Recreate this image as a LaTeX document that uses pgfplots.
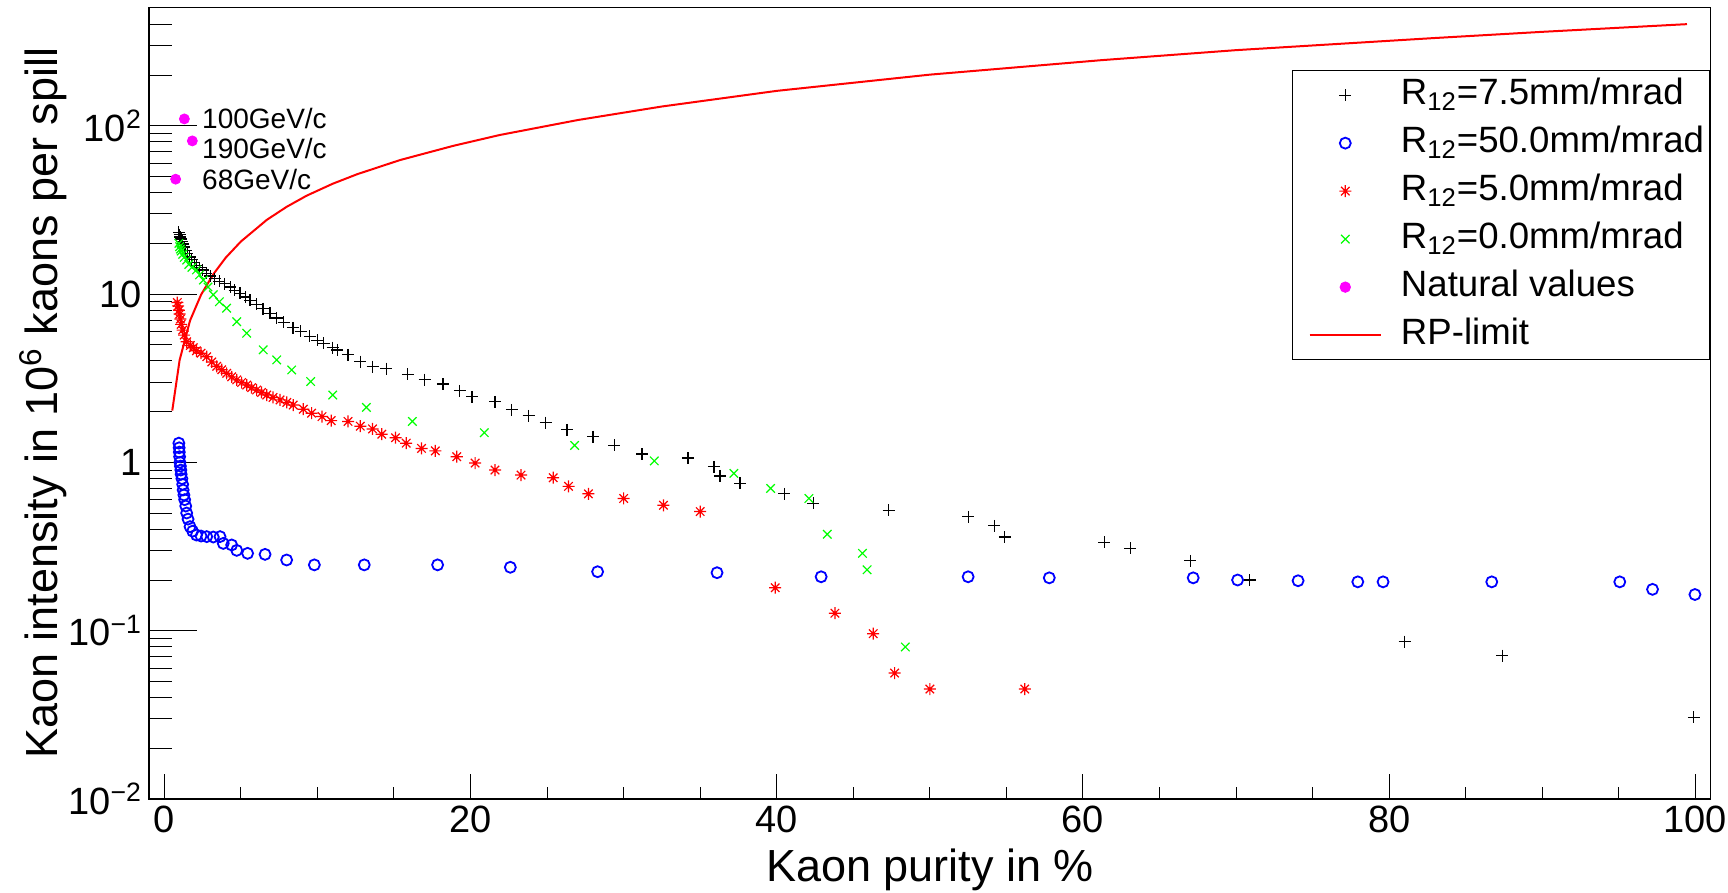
\documentclass[border=0pt]{standalone}
\usepackage{fontspec}
\setmainfont{Liberation Sans}
\usepackage{pgfplots}
\pgfplotsset{compat=1.18}

\definecolor{rblue}{RGB}{0,0,255}
\definecolor{rred}{RGB}{255,0,0}
\definecolor{rgreen}{RGB}{0,255,0}
\definecolor{rmagenta}{RGB}{255,0,255}

% ROOT-like star marker: + and x with a dot in the middle
\pgfdeclareplotmark{rootstar}{%
  \pgfpathmoveto{\pgfqpoint{-\pgfplotmarksize}{0pt}}\pgfpathlineto{\pgfqpoint{\pgfplotmarksize}{0pt}}%
  \pgfpathmoveto{\pgfqpoint{0pt}{-\pgfplotmarksize}}\pgfpathlineto{\pgfqpoint{0pt}{\pgfplotmarksize}}%
  \pgfpathmoveto{\pgfqpoint{-0.707\pgfplotmarksize}{-0.707\pgfplotmarksize}}\pgfpathlineto{\pgfqpoint{0.707\pgfplotmarksize}{0.707\pgfplotmarksize}}%
  \pgfpathmoveto{\pgfqpoint{-0.707\pgfplotmarksize}{0.707\pgfplotmarksize}}\pgfpathlineto{\pgfqpoint{0.707\pgfplotmarksize}{-0.707\pgfplotmarksize}}%
  \pgfusepathqstroke
  \pgfpathcircle{\pgfpointorigin}{0.3\pgfplotmarksize}\pgfusepathqfill
}

\begin{document}
\begin{tikzpicture}
\begin{axis}[
  name=ax, at={(0,0)}, anchor=south west,
  scale only axis, width=780.85pt, height=395.85pt,
  xmin=-1, xmax=101, ymode=log, ymin=0.01, ymax=505,
  axis line style={line width=0.65pt},
  tick pos=left, tick align=inside,
  xtick={0,20,40,60,80,100},
  minor xtick={5,10,15,25,30,35,45,50,55,65,70,75,85,90,95},
  ytick={0.01,0.1,1,10,100},
  yticklabels={10\textsuperscript{−2},10\textsuperscript{−1},1,10,10\textsuperscript{2}},
  minor ytick={0.02,0.03,0.04,0.05,0.06,0.07,0.08,0.09,
               0.2,0.3,0.4,0.5,0.6,0.7,0.8,0.9,
               2,3,4,5,6,7,8,9,20,30,40,50,60,70,80,90,200,300,400},
  tick style={line width=0.5pt, black},
  xtick style={/pgfplots/major tick length=12.5pt, /pgfplots/minor tick length=6pt},
  ytick style={/pgfplots/major tick length=24pt, /pgfplots/minor tick length=11.5pt},
  ticklabel style={font=\fontsize{19}{22}\selectfont},
  /pgf/number format/assume math mode=true,
  xlabel={Kaon purity in \%},
  ylabel={Kaon intensity in 10\textsuperscript{6} kaons per spill},
  every axis x label/.style={at={(axis description cs:0.5,-0.1048)}, anchor=base,
    font=\fontsize{22.5}{26}\selectfont},
  every axis y label/.style={at={(axis description cs:-0.0589,0.5)}, rotate=90, anchor=base,
    font=\fontsize{22.5}{26}\selectfont},
  legend image code/.code={\path (-4.9pt,0pt);\draw[mark repeat=2,mark phase=2,#1]
    plot coordinates {(0pt,0pt) (17.85pt,0pt) (35.7pt,0pt)};},
  legend cell align=left,
  legend style={at={(1,0.9208)}, anchor=north east, draw=black, line width=0.65pt,
    fill=white, font=\fontsize{18.3}{21}\selectfont,
    inner xsep=3pt, inner ysep=3pt, row sep=5.5pt, column sep=9.5pt,
    nodes={inner sep=0pt, text height=14pt, text depth=4.5pt}},
]
% R12 = 7.5 mm/mrad
\addplot[only marks, mark=+, mark size=3pt, black, mark options={line width=0.6pt}] coordinates {
(0.95,23.2) (1.0,22.5) (1.05,21.8) (1.1,21.2) (1.15,20.6) (1.2,19.8) (1.3,19.0) (1.4,18.2)
(1.5,17.5) (1.65,16.6) (1.8,16.0) (1.95,15.4) (2.1,14.8) (2.3,14.3) (2.5,13.9) (2.75,13.3)
(3.0,12.8) (3.3,12.3) (3.6,11.9) (3.95,11.5) (4.3,11.0) (4.6,10.5) (4.95,10.1) (5.3,9.6)
(5.6,9.2) (6.0,8.7) (6.45,8.2) (6.9,7.7) (7.35,7.2) (7.8,6.8) (8.4,6.3) (8.9,6.0) (9.5,5.6)
(10.0,5.3) (10.4,5.1) (11.0,4.8) (11.3,4.65) (12.0,4.35) (12.8,3.97) (13.6,3.70) (14.5,3.60)
(15.9,3.33) (17.0,3.10) (18.2,2.92) (19.3,2.66) (20.1,2.45) (21.6,2.29) (22.7,2.05) (23.8,1.89)
(24.9,1.72) (26.3,1.56) (28.0,1.42) (29.4,1.26) (31.2,1.12) (34.2,1.06) (35.9,0.94) (36.3,0.83)
(37.6,0.75) (40.5,0.65) (42.4,0.57) (47.3,0.52) (52.5,0.475) (54.2,0.42) (54.9,0.36)
(61.4,0.335) (63.1,0.309) (67.0,0.26) (70.9,0.20) (81.0,0.086) (87.4,0.071) (99.9,0.0306)
};
\addlegendentry{R\textsubscript{12}=7.5mm/mrad}
% R12 = 50.0 mm/mrad
\addplot[only marks, mark=o, mark size=2.75pt, rblue, mark options={line width=0.9pt}] coordinates {
(0.95,1.30) (0.97,1.22) (0.98,1.15) (1.0,1.08) (1.02,1.0) (1.05,0.95) (1.08,0.90) (1.1,0.85)
(1.15,0.80) (1.2,0.74) (1.23,0.685) (1.28,0.64) (1.33,0.60) (1.4,0.55) (1.46,0.50) (1.55,0.46)
(1.68,0.415) (1.85,0.39) (2.1,0.37) (2.4,0.365) (2.77,0.362) (3.2,0.36) (3.64,0.362) (3.85,0.33)
(4.4,0.323) (4.73,0.30) (5.44,0.288) (6.58,0.284) (7.99,0.263) (9.8,0.246) (13.06,0.246)
(17.85,0.246) (22.6,0.238) (28.3,0.224) (36.1,0.221) (42.9,0.209) (52.5,0.209) (57.8,0.206)
(67.2,0.206) (70.1,0.200) (74.05,0.198) (77.95,0.195) (79.6,0.195) (86.7,0.195) (95.06,0.195)
(97.2,0.176) (99.97,0.164)
};
\addlegendentry{R\textsubscript{12}=50.0mm/mrad}
% R12 = 5.0 mm/mrad
\addplot[only marks, mark=rootstar, mark size=3pt, rred, mark options={line width=0.6pt}] coordinates {
(0.85,8.9) (0.9,8.5) (0.95,8.0) (1.0,7.6) (1.05,7.1) (1.1,6.6) (1.2,6.1) (1.3,5.7) (1.46,5.2)
(1.7,4.95) (1.9,4.8) (2.1,4.6) (2.4,4.45) (2.77,4.24) (3.1,3.95) (3.42,3.72) (3.75,3.55)
(4.07,3.38) (4.4,3.22) (4.73,3.09) (5.05,2.98) (5.38,2.88) (5.7,2.78) (6.03,2.69) (6.35,2.60)
(6.69,2.51) (7.1,2.43) (7.56,2.35) (8.0,2.27) (8.42,2.19) (9.08,2.07) (9.62,1.96) (10.3,1.87)
(10.9,1.77) (12.0,1.75) (12.8,1.64) (13.6,1.58) (14.2,1.47) (15.1,1.40) (15.8,1.30) (16.8,1.21)
(17.7,1.17) (19.1,1.08) (20.3,0.99) (21.6,0.90) (23.3,0.84) (25.4,0.81) (26.4,0.72) (27.7,0.65)
(30.0,0.61) (32.6,0.556) (35.0,0.51) (39.9,0.18) (43.8,0.127) (46.3,0.096) (47.7,0.056)
(50.0,0.045) (56.2,0.045)
};
\addlegendentry{R\textsubscript{12}=5.0mm/mrad}
% R12 = 0.0 mm/mrad
\addplot[only marks, mark=x, mark size=3pt, rgreen, mark options={line width=0.6pt}] coordinates {
(0.95,20.0) (1.0,19.1) (1.05,18.5) (1.1,18.0) (1.2,17.2) (1.3,16.5) (1.46,15.9) (1.6,15.0)
(1.8,14.4) (2.1,13.9) (2.3,13.0) (2.55,12.1) (2.85,11.0) (3.2,9.9) (3.6,9.0) (4.07,8.24)
(4.73,6.85) (5.38,5.85) (6.46,4.66) (7.34,4.06) (8.32,3.54) (9.56,3.02) (11.0,2.51) (13.2,2.12)
(16.2,1.75) (20.9,1.50) (26.8,1.26) (32.0,1.02) (37.2,0.86) (39.6,0.70) (42.1,0.61) (43.3,0.374)
(45.6,0.288) (45.9,0.23) (48.4,0.080)
};
\addlegendentry{R\textsubscript{12}=0.0mm/mrad}
% natural values
\addplot[only marks, mark=*, mark size=2.5pt, rmagenta] coordinates {
(1.31,109.7) (1.83,81.2) (0.74,48.1)
};
\addlegendentry{Natural values}
% RP limit
\addplot[rred, line width=1pt, no marks] coordinates {
(0.52,2.03) (1.0,4.05) (1.68,6.95) (2.4,9.9) (3.2,13.1) (4.0,16.4) (5.0,20.5) (6.7,27.6)
(8.0,33.0) (9.3,38.4) (11.0,45.2) (12.6,51.5) (15.4,62.5) (18.9,76) (21.9,88) (27,108)
(32.5,130) (40,161) (50,201) (61.2,245) (70,281) (82.8,331) (90,361) (99.45,401)
};
\addlegendentry{RP-limit}

\node[anchor=west, inner sep=0pt, font=\fontsize{14}{16}\selectfont] at (axis cs:2.45,109.7) {100GeV/c};
\node[anchor=west, inner sep=0pt, font=\fontsize{14}{16}\selectfont] at (axis cs:2.45,72.8) {190GeV/c};
\node[anchor=west, inner sep=0pt, font=\fontsize{14}{16}\selectfont] at (axis cs:2.45,47.6) {68GeV/c};
\end{axis}
\pgfresetboundingbox
\path[use as bounding box] (-74.5pt,-47pt) rectangle (789.5pt,399.5pt);
\end{tikzpicture}
\end{document}
